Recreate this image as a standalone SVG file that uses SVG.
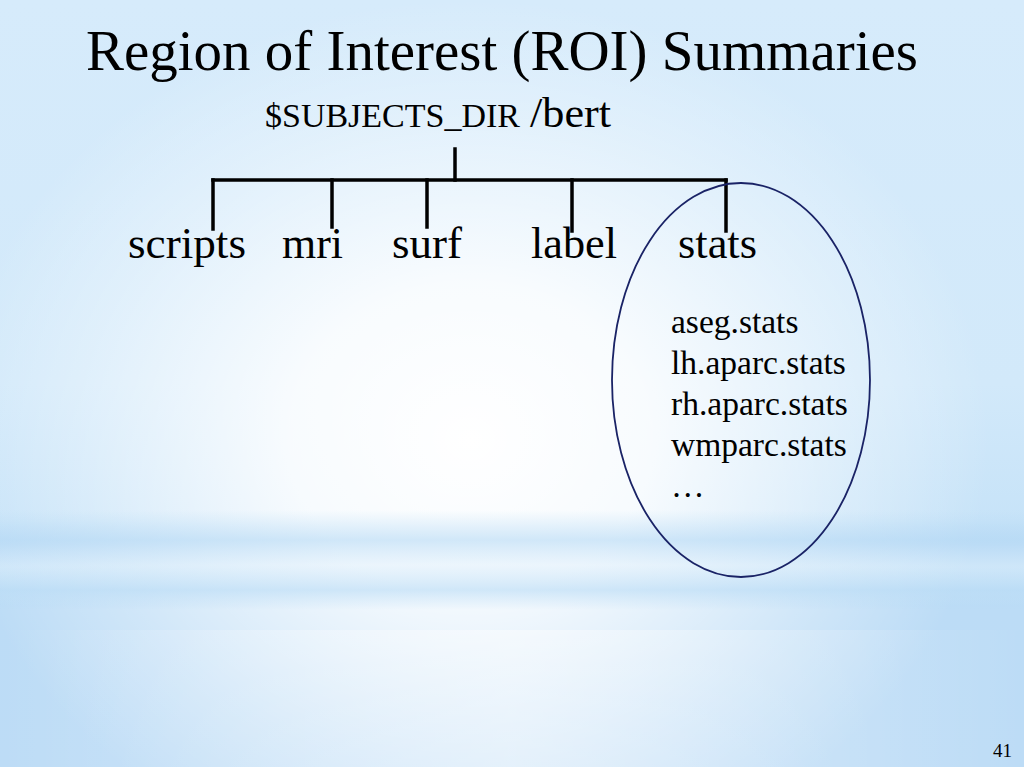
<svg xmlns="http://www.w3.org/2000/svg" width="1024" height="767" viewBox="0 0 1024 767">
<defs>
<style>
text{font-family:'Liberation Serif','DejaVu Serif',serif;fill:#000}
.ln{stroke:#000;stroke-width:3.5;fill:none;stroke-linecap:square}
</style>
<radialGradient id="glow" gradientUnits="userSpaceOnUse" cx="470" cy="440" r="520" gradientTransform="translate(470 440) scale(1 0.85) translate(-470 -440)">
<stop offset="0" stop-color="#ffffff" stop-opacity="1"/>
<stop offset="0.35" stop-color="#ffffff" stop-opacity="0.85"/>
<stop offset="0.75" stop-color="#ffffff" stop-opacity="0.3"/>
<stop offset="1" stop-color="#ffffff" stop-opacity="0"/>
</radialGradient>
<linearGradient id="vert" x1="0" y1="0" x2="0" y2="1">
<stop offset="0" stop-color="#d6ebfb"/>
<stop offset="0.5" stop-color="#d2e9fa"/>
<stop offset="0.68" stop-color="#c7e3f8"/>
<stop offset="0.71" stop-color="#bddcf6"/>
<stop offset="0.74" stop-color="#cfe7f9"/>
<stop offset="0.765" stop-color="#c6e2f8"/>
<stop offset="0.79" stop-color="#bcdcf6"/>
<stop offset="1" stop-color="#bddcf6"/>
</linearGradient>
<linearGradient id="band" x1="0" y1="0" x2="0" y2="1">
<stop offset="0" stop-color="#b6daf5" stop-opacity="0"/>
<stop offset="0.3" stop-color="#b6daf5" stop-opacity="0.6"/>
<stop offset="0.55" stop-color="#cde6f9" stop-opacity="0.3"/>
<stop offset="0.8" stop-color="#b6daf5" stop-opacity="0.6"/>
<stop offset="1" stop-color="#b6daf5" stop-opacity="0"/>
</linearGradient>
<linearGradient id="lowglow" x1="0" y1="0" x2="1" y2="0">
<stop offset="0" stop-color="#ffffff" stop-opacity="0"/>
<stop offset="0.5" stop-color="#ffffff" stop-opacity="0.7"/>
<stop offset="1" stop-color="#ffffff" stop-opacity="0"/>
</linearGradient>
</defs>
<g id="background">
<rect x="0" y="0" width="1024" height="767" fill="url(#vert)"/>
<rect x="0" y="0" width="1024" height="767" fill="url(#glow)"/>
<rect x="0" y="510" width="1024" height="100" fill="url(#band)"/>
<rect x="0" y="630" width="1024" height="137" fill="url(#lowglow)" opacity="0.6"/>
</g>
<g id="title">
<text font-family="Liberation Serif, serif" x="86" y="70" font-size="56" textLength="832" lengthAdjust="spacingAndGlyphs">Region of Interest (ROI) Summaries</text>
</g>
<g id="root">
<text font-family="Liberation Serif, serif" y="127"><tspan x="265" font-size="34" textLength="255" lengthAdjust="spacingAndGlyphs">$SUBJECTS_DIR</tspan><tspan x="530" font-size="42" textLength="81" lengthAdjust="spacingAndGlyphs">/bert</tspan></text>
</g>
<g id="connectors">
<line class="ln" x1="455" y1="149" x2="455" y2="180"/>
<line class="ln" x1="213" y1="180" x2="726" y2="180"/>
<line class="ln" x1="213" y1="180" x2="213" y2="229"/>
<line class="ln" x1="332" y1="180" x2="332" y2="227"/>
<line class="ln" x1="427" y1="180" x2="427" y2="227"/>
<line class="ln" x1="572" y1="180" x2="572" y2="231"/>
<line class="ln" x1="726" y1="180" x2="726" y2="231"/>
</g>
<g id="scripts"><text x="128" y="258" font-size="44" textLength="118" lengthAdjust="spacingAndGlyphs">scripts</text></g>
<g id="mri"><text x="282" y="258" font-size="44" textLength="61" lengthAdjust="spacingAndGlyphs">mri</text></g>
<g id="surf"><text x="392" y="258" font-size="44" textLength="70" lengthAdjust="spacingAndGlyphs">surf</text></g>
<g id="label"><text x="531" y="258" font-size="44" textLength="86" lengthAdjust="spacingAndGlyphs">label</text></g>
<g id="stats">
<ellipse cx="741" cy="380" rx="129" ry="197" fill="none" stroke="#1a2366" stroke-width="1.8"/>
<text x="678" y="258" font-size="44" textLength="79" lengthAdjust="spacingAndGlyphs">stats</text>
<text x="671" y="333" font-size="33.5">aseg.stats</text>
<text x="671" y="374" font-size="33.5">lh.aparc.stats</text>
<text x="671" y="415" font-size="33.5">rh.aparc.stats</text>
<text x="671" y="456" font-size="33.5">wmparc.stats</text>
<text x="671" y="497" font-size="33.5">…</text>
</g>
<g id="page"><text x="993" y="757" font-size="19">41</text></g>
</svg>
